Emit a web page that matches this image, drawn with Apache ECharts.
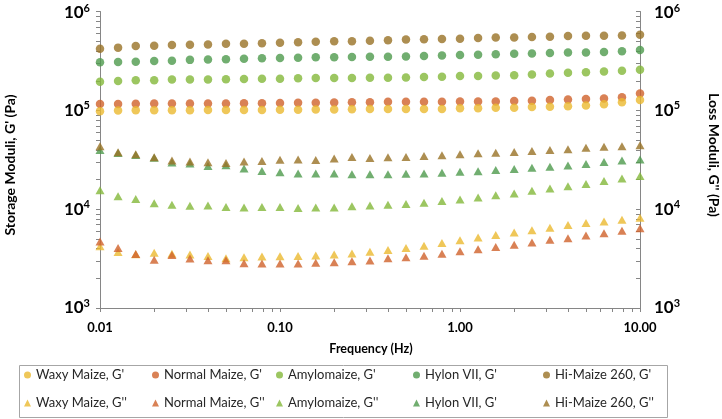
<!DOCTYPE html>
<html><head><meta charset="utf-8">
<script src="https://cdn.jsdelivr.net/npm/echarts@6/dist/echarts.min.js"></script>
<style>html,body{margin:0;padding:0;background:#fff}#c{width:722px;height:419px}</style>
</head><body><div id="c"></div>
<script>
// ---- data ----
const freq = [0.01, 0.0126, 0.0158, 0.02, 0.0251, 0.0316, 0.0398, 0.0501, 0.0631, 0.0794,
  0.1, 0.126, 0.158, 0.2, 0.251, 0.316, 0.398, 0.501, 0.631, 0.794,
  1, 1.26, 1.58, 2, 2.51, 3.16, 3.98, 5.01, 6.31, 7.94, 10];
const waxyG = [97800, 99400, 100000, 100000, 100000, 100000, 100500, 100500, 101000, 101000, 101600, 101600, 102000, 102000, 102500, 103000, 103000, 103000, 103000, 103000, 104700, 104700, 106000, 106000, 108000, 108700, 110000, 112000, 115000, 121000, 127000];
const normalG = [116000, 116000, 116500, 117000, 117000, 117000, 117500, 117500, 118000, 118000, 118500, 119000, 119500, 120000, 120500, 121000, 122000, 122000, 122000, 122000, 123000, 123000, 123000, 124000, 125000, 127000, 129000, 130000, 132000, 136000, 148000];
const amyloG = [195000, 198000, 201000, 201000, 205000, 205000, 205000, 206000, 207000, 209000, 209000, 211000, 212000, 212000, 212000, 214000, 214000, 215000, 217000, 219000, 222000, 223000, 225000, 227000, 231000, 236000, 240000, 243000, 247000, 251000, 257000];
const hylonG = [307000, 309000, 311000, 316000, 318000, 324000, 326000, 329000, 333000, 336000, 338000, 341000, 344000, 344000, 346000, 348000, 348000, 351000, 354000, 359000, 362000, 365000, 370000, 373000, 376000, 381000, 385000, 385000, 390000, 396000, 408000];
const hiMaizeG = [421000, 431000, 447000, 451000, 457000, 461000, 464000, 472000, 472000, 478000, 482000, 489000, 493000, 500000, 500000, 505000, 512000, 520000, 524000, 528000, 531000, 540000, 547000, 547000, 552000, 556000, 565000, 569000, 569000, 573000, 582000];
const waxyGG = [4210, 3680, 3500, 3620, 3540, 3480, 3360, 3180, 3260, 3310, 3330, 3360, 3400, 3480, 3570, 3700, 3860, 4050, 4270, 4540, 4850, 5160, 5470, 5820, 6130, 6470, 6920, 7240, 7500, 7800, 8170];
const normalGG = [4720, 4050, 3510, 3070, 3440, 3160, 3040, 3040, 2840, 2820, 2820, 2820, 2870, 2910, 2980, 3020, 3180, 3260, 3380, 3540, 3760, 3940, 4150, 4370, 4610, 4890, 5080, 5400, 5690, 6040, 6410];
const amyloGG = [15500, 13500, 12700, 11500, 11100, 10800, 10900, 10500, 10400, 10500, 10500, 10300, 10400, 10400, 10700, 10900, 11100, 11300, 11600, 12100, 12500, 13100, 13800, 14400, 15400, 16200, 17100, 18000, 19300, 20400, 21600];
const hylonGG = [39600, 37000, 35400, 33100, 29600, 28900, 27300, 27800, 25800, 24400, 23700, 23000, 22900, 22900, 22500, 22500, 22500, 22800, 22900, 23300, 23900, 24200, 24900, 25500, 26200, 26800, 27600, 28600, 30000, 31100, 31800];
const hiMaizeGG = [43300, 37600, 35900, 33600, 31100, 30400, 29800, 29400, 30400, 30700, 31600, 31900, 31400, 32600, 33800, 32900, 33600, 33800, 34600, 35200, 35900, 36800, 37300, 37900, 38700, 39600, 40500, 41800, 42700, 43300, 44400];
const xTickLabels = ['0.01', '0.10', '1.00', '10.00'];
const yTickExps = ['3', '4', '5', '6'];
const names = ["Waxy Maize, G'", "Normal Maize, G'", "Amylomaize, G'", "Hylon VII, G'", "Hi-Maize 260, G'"];
const names2 = ["Waxy Maize, G''", "Normal Maize, G''", "Amylomaize, G''", "Hylon VII, G' ", "Hi-Maize 260, G''"];
const colors = ['#EBB92F', '#D0622A', '#83B83A', '#4D9A4C', '#997226'];

// ---- chart ----
const FF = 'Lato, "Liberation Sans", sans-serif';
const AX = '#868686';
const gVals = [waxyG, normalG, amyloG, hylonG, hiMaizeG];
const ggVals = [waxyGG, normalGG, amyloGG, hylonGG, hiMaizeGG];
const series = [];
const drawOrder = [1, 0, 2, 3, 4];
drawOrder.forEach(i => series.push({
  name: names[i], type: 'scatter', xAxisIndex: 0, yAxisIndex: 0, symbol: 'circle', symbolSize: 8.5,
  itemStyle: {color: colors[i]}, data: freq.map((f, k) => [f, gVals[i][k]]), z: 3
}));
[0, 1, 2, 3, 4].forEach(i => series.push({
  name: names2[i], type: 'scatter', xAxisIndex: 0, yAxisIndex: 1, symbol: 'triangle', symbolSize: [9, 8],
  itemStyle: {color: colors[i]}, data: freq.map((f, k) => [f, ggVals[i][k]]), z: 3
}));

// minor ticks (log 2..9)
const xMinor = [], yMinor = [];
[0.01, 0.1, 1].forEach(d => { for (let m = 2; m <= 9; m++) xMinor.push(+(d * m).toPrecision(3)); });
[1000, 10000, 100000].forEach(d => { for (let m = 2; m <= 9; m++) yMinor.push(d * m); });
function tickSeries(vals, yIdx, fn) {
  return {
    type: 'custom', xAxisIndex: 0, yAxisIndex: yIdx, silent: true, clip: false, z: 2,
    data: vals, renderItem: fn
  };
}
series.push(tickSeries(xMinor.map(v => [v, 1000]), 0, (p, api) => {
  const pt = api.coord([api.value(0), api.value(1)]);
  const x = Math.round(pt[0]) + 0.5;
  return {type: 'line', shape: {x1: x, y1: pt[1], x2: x, y2: pt[1] + 4}, style: {stroke: AX, lineWidth: 1}};
}));
series.push(tickSeries(yMinor.map(v => [0.01, v]), 0, (p, api) => {
  const pt = api.coord([api.value(0), api.value(1)]);
  const y = Math.round(pt[1]) + 0.5;
  return {type: 'line', shape: {x1: pt[0] - 4, y1: y, x2: pt[0], y2: y}, style: {stroke: AX, lineWidth: 1}};
}));
series.push(tickSeries(yMinor.map(v => [10, v]), 1, (p, api) => {
  const pt = api.coord([api.value(0), api.value(1)]);
  const y = Math.round(pt[1]) + 0.5;
  return {type: 'line', shape: {x1: pt[0] - 4, y1: y, x2: pt[0], y2: y}, style: {stroke: AX, lineWidth: 1}};
}));

const rich = {
  b: {fontSize: 17, fontWeight: 'bold', fontFamily: FF, color: '#000', lineHeight: 20},
  s: {fontSize: 11, fontWeight: 'bold', fontFamily: FF, color: '#000', lineHeight: 11, padding: [0, 0, 9, 0]},
  bt: {fontSize: 17, fontWeight: 'bold', fontFamily: FF, color: '#000', lineHeight: 20, padding: [3, 0, 0, 0]},
  st: {fontSize: 11, fontWeight: 'bold', fontFamily: FF, color: '#000', lineHeight: 11, padding: [3, 0, 9, 0]}
};
function yFmt(v) {
  const e = Math.round(Math.log10(v));
  const lab = yTickExps[e - 3];
  if (e === 6) return '{bt|10}{st|' + lab + '}';
  return '{b|10}{s|' + lab + '}';
}
function yAxis(pos, inside, margin) {
  return {
    type: 'log', logBase: 10, min: 1000, max: 1000000, position: pos,
    axisLine: {show: true, lineStyle: {color: AX, width: 1}},
    axisTick: {show: true, inside: inside, length: 4, lineStyle: {color: AX}},
    splitLine: {show: false}, minorTick: {show: false},
    axisLabel: {formatter: yFmt, rich: rich, margin: margin}
  };
}

const legendCols = [0, 1, 2, 3, 4].map(i => [names[i], names2[i]]);
const colLeft = [24, 152, 276, 413, 543];
const display = {};
names.forEach(n => display[n] = n);
names2.forEach(n => display[n] = n.trim());

const option = {
  animation: false,
  backgroundColor: '#fff',
  grid: {left: 100, right: 82, top: 2, bottom: 111, containLabel: false},
  xAxis: {
    type: 'log', logBase: 10, min: 0.01, max: 10,
    axisLine: {show: true, lineStyle: {color: AX, width: 1}},
    axisTick: {show: true, length: 4, lineStyle: {color: AX}},
    splitLine: {show: false},
    axisLabel: {
      margin: 13, fontSize: 13, fontWeight: 'bold', fontFamily: FF, color: '#000',
      formatter: v => xTickLabels[Math.round(Math.log10(v)) + 2]
    }
  },
  yAxis: [yAxis('left', false, 10), yAxis('right', true, 14)],
  legend: legendCols.map((c, i) => ({
    orient: 'vertical', left: colLeft[i], top: 368, itemGap: 14, itemWidth: 7, itemHeight: 7,
    padding: 0, data: c, selectedMode: false,
    formatter: n => display[n],
    textStyle: {fontSize: 13, lineHeight: 14, color: '#262626', fontFamily: FF}
  })),
  graphic: [
    {type: 'rect', shape: {x: 19.5, y: 365.5, width: 648, height: 52}, style: {fill: 'none', stroke: '#A6A6A6', lineWidth: 1}, silent: true},
    {type: 'text', x: 10, y: 165, rotation: Math.PI / 2, style: {text: "Storage Moduli, G' (Pa)", font: 'bold 14px ' + FF, fill: '#000', align: 'center', verticalAlign: 'middle'}},
    {type: 'text', x: 714, y: 155, rotation: -Math.PI / 2, style: {text: "Loss Moduli, G'' (Pa)", font: 'bold 14px ' + FF, fill: '#000', align: 'center', verticalAlign: 'middle'}},
    {type: 'text', x: 371, y: 349, style: {text: 'Frequency (Hz)', font: 'bold 12.5px ' + FF, fill: '#000', align: 'center', verticalAlign: 'middle'}}
  ],
  series: series
};
const chart = echarts.init(document.getElementById('c'), null, {renderer: 'canvas'});
chart.setOption(option);
</script></body></html>
